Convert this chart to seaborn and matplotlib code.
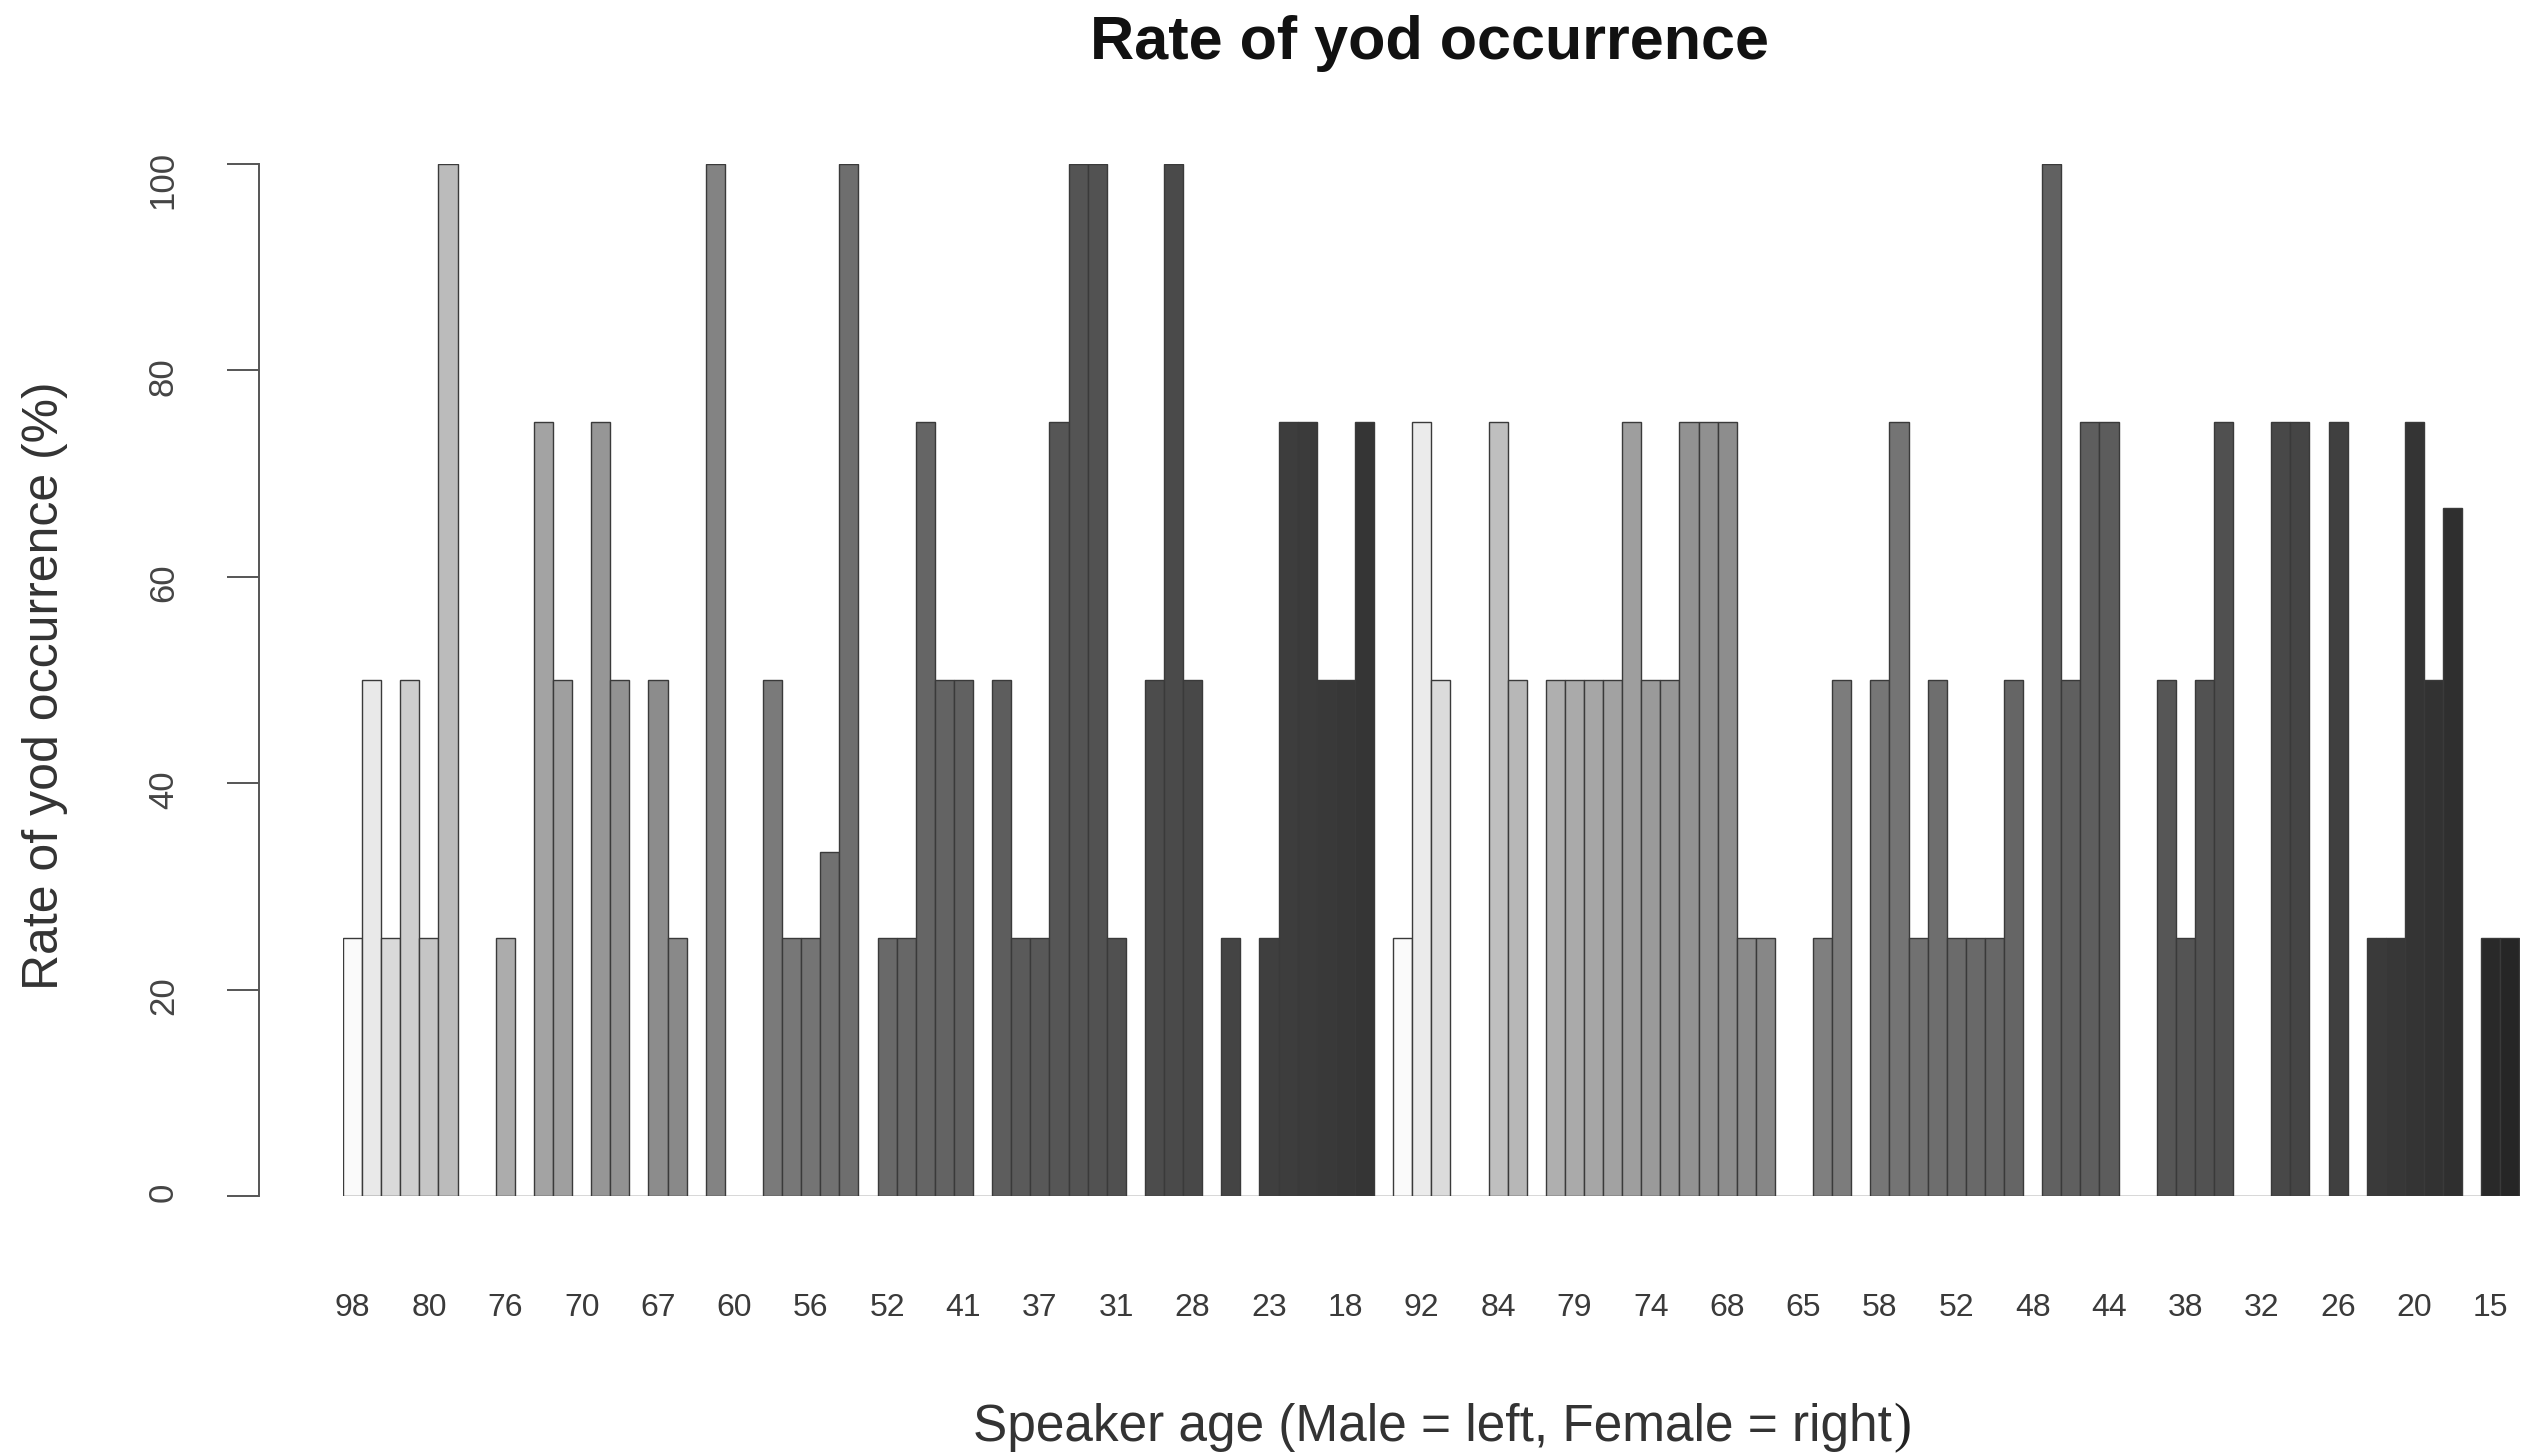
import matplotlib
matplotlib.use('Agg')
import matplotlib.pyplot as plt
import seaborn as sns
import numpy as np
import pandas as pd

# Rates of yod occurrence per speaker (left = male, right = female)
male_rates = [25, 50, 25, 50, 25, 100, 0, 0, 25, 0, 75, 50, 0, 75, 50, 0, 50, 25, 0, 100,
              0, 0, 50, 25, 25, 33.3, 100, 0, 25, 25, 75, 50, 50, 0, 50, 25, 25, 75, 100, 100,
              25, 0, 50, 100, 50, 0, 25, 0, 25, 75, 75, 50, 50, 75, 0]
female_rates = [25, 75, 50, 0, 0, 75, 50, 0, 50, 50, 50, 50, 75, 50, 50, 75, 75, 75, 25, 25,
                0, 0, 25, 50, 0, 50, 75, 25, 50, 25, 25, 25, 50, 0, 100, 50, 75, 75, 0, 0,
                50, 25, 50, 75, 0, 0, 75, 75, 0, 75, 0, 25, 25, 75, 50, 66.7, 0, 25, 25]

# Only every 4th age label is visible in the original
tick_labels = ['98', '80', '76', '70', '67', '60', '56', '52', '41', '37', '31', '28', '23', '18',
               '92', '84', '79', '74', '68', '65', '58', '52', '48', '44', '38', '32', '26', '20', '15']
label_step = 4
y_ticks = [0, 20, 40, 60, 80, 100]

title = 'Rate of yod occurrence'
ylabel = 'Rate of yod occurrence (%)'
xlabel = 'Speaker age (Male = left, Female = right'


def grey_ramp(n, end):
    # light -> dark, darkening quickly at first like the original
    t = np.linspace(0, 1, n)
    lv = np.interp(t, [0, 0.04, 0.1, 0.25, 0.5, 0.75, 1.0],
                   [0.98, 0.84, 0.72, 0.58, 0.42, 0.31, end])
    return [(v, v, v) for v in lv]


rates = male_rates + female_rates
colors = grey_ramp(len(male_rates), 0.2) + grey_ramp(len(female_rates), 0.15)
ids = [str(i) for i in range(len(rates))]
df = pd.DataFrame({'id': ids, 'rate': rates})
palette = dict(zip(ids, colors))

sns.set_style('white')
plt.rcParams['font.family'] = ['Liberation Sans', 'DejaVu Sans']

W, H = 2542, 1456
fig = plt.figure(figsize=(W / 100, H / 100), dpi=100)
x0, x1 = 343, 2519.5
y0, y1 = 1196, 164
ax = fig.add_axes([x0 / W, 1 - y0 / H, (x1 - x0) / W, (y0 - y1) / H])

sns.barplot(data=df, x='id', y='rate', hue='id', palette=palette, order=ids, hue_order=ids,
            legend=False, width=1.0, saturation=1, edgecolor='#3a3a3a', linewidth=1.0,
            dodge=False, ax=ax)

ax.set_xlim(-0.5, len(rates) - 0.5)
ax.set_ylim(0, 100)
ax.set_xlabel('')
ax.set_ylabel('')

ax.set_xticks(range(0, len(rates), label_step))
ax.set_xticklabels(tick_labels)
ax.tick_params(axis='x', length=0, pad=70, labelsize=23, labelcolor='#3a3a3a')

ax.set_yticks(y_ticks)
ax.set_yticklabels([str(v) for v in y_ticks])
ax.tick_params(axis='y', length=23, width=1.4, color='#555555', pad=34, left=True,
               labelsize=25, labelcolor='#444444', labelrotation=90)
for lab in ax.get_yticklabels():
    lab.set_va('center')

for s in ['top', 'right', 'bottom']:
    ax.spines[s].set_visible(False)
ax.spines['left'].set_position(('axes', -(x0 - 259) / (x1 - x0)))
ax.spines['left'].set_bounds(0, 100)
ax.spines['left'].set_color('#555555')
ax.spines['left'].set_linewidth(1.4)

fig.text(1430 / W, 1 - 44 / H, title, ha='center', va='center', fontsize=44,
         fontweight='bold', color='#111111')
fig.text(45 / W, 1 - 686 / H, ylabel, ha='center', va='center', rotation=90,
         fontsize=36, color='#333333')
fig.text(1892 / W, 1 - 1428 / H, xlabel, ha='right', va='center', fontsize=37, color='#333333')
fig.text(1893 / W, 1 - 1428 / H, ')', ha='left', va='center', fontsize=39,
         family='Liberation Serif', color='#222222')

fig.savefig('out.png', dpi=100, facecolor='white')
